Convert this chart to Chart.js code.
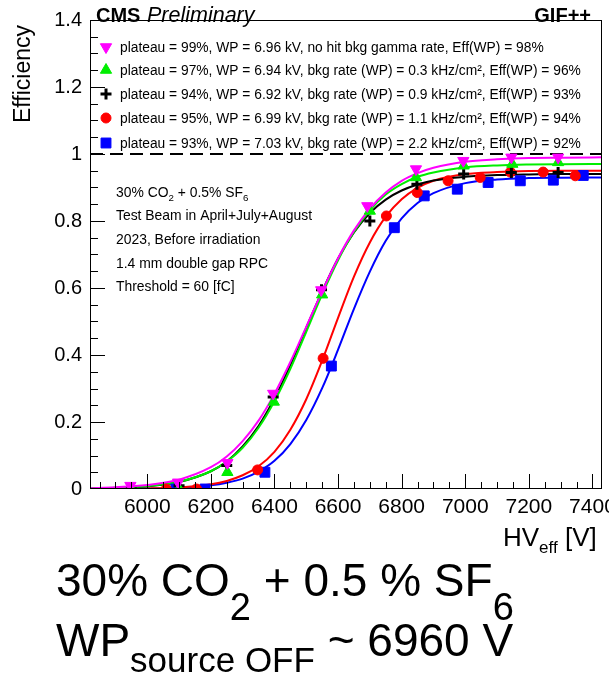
<!DOCTYPE html>
<html><head><meta charset="utf-8">
<script src="https://cdn.jsdelivr.net/npm/chart.js@4.4.0/dist/chart.umd.min.js"></script>
<style>
html,body{margin:0;padding:0;background:#fff;width:609px;height:675px;overflow:hidden;}
#wrap{position:absolute;left:0;top:0;width:609px;height:675px;}
.big{position:absolute;font-family:"Liberation Sans",Arial,sans-serif;color:#000;white-space:nowrap;line-height:1;}
.sub{position:relative;line-height:1;}
</style></head><body>
<div id="wrap"><canvas id="c" width="609" height="675"></canvas></div>
<div class="big" style="left:56px;top:557px;font-size:46px;">30% CO<span class="sub" style="font-size:38px;top:24px">2</span> + 0.5 % SF<span class="sub" style="font-size:38px;top:24px">6</span></div>
<div class="big" style="left:56px;top:617px;font-size:46px;">WP<span class="sub" style="font-size:35px;top:16px">source OFF</span> ~ 6960 V</div>
<script>
// ---------- DATA ----------
const xTickValues = [6000, 6200, 6400, 6600, 6800, 7000, 7200, 7400];
const yTickValues = [0, 0.2, 0.4, 0.6, 0.8, 1, 1.2, 1.4];
const X_MIN = 5820, X_MAX = 7430, Y_MIN = 0, Y_MAX = 1.4;

const seriesLabels = [
  "plateau = 99%, WP = 6.96 kV, no hit bkg gamma rate, Eff(WP) = 98%",
  "plateau = 97%, WP = 6.94 kV, bkg rate (WP) = 0.3 kHz/cm\u00B2, Eff(WP) = 96%",
  "plateau = 94%, WP = 6.92 kV, bkg rate (WP) = 0.9 kHz/cm\u00B2, Eff(WP) = 93%",
  "plateau = 95%, WP = 6.99 kV, bkg rate (WP) = 1.1 kHz/cm\u00B2, Eff(WP) = 94%",
  "plateau = 93%, WP = 7.03 kV, bkg rate (WP) = 2.2 kHz/cm\u00B2, Eff(WP) = 92%"
];

// measured points
const hvMagenta  = [5947, 6097, 6252, 6396, 6547, 6692, 6845, 6994, 7145, 7292];
const effMagenta = [0.01, 0.02, 0.078, 0.285, 0.594, 0.845, 0.955, 0.98, 0.99, 0.99];
const hvGreen    = [5950, 6100, 6252, 6398, 6550, 6700, 6845, 6995, 7148, 7292];
const effGreen   = [0.0, 0.0, 0.05, 0.26, 0.58, 0.83, 0.93, 0.965, 0.97, 0.975];
const hvBlack    = [5950, 6100, 6250, 6396, 6548, 6700, 6848, 6995, 7145, 7292];
const effBlack   = [0.0, 0.01, 0.07, 0.275, 0.595, 0.80, 0.91, 0.94, 0.945, 0.945];
const hvRed      = [6060, 6155, 6347, 6553, 6752, 6849, 6946, 7047, 7142, 7245, 7346];
const effRed     = [0.0, 0.0, 0.057, 0.39, 0.815, 0.885, 0.92, 0.93, 0.946, 0.946, 0.935];
const hvBlue     = [6090, 6182, 6370, 6579, 6777, 6871, 6975, 7072, 7173, 7277, 7371];
const effBlue    = [0.0, 0.0, 0.05, 0.367, 0.78, 0.875, 0.895, 0.915, 0.92, 0.922, 0.936];

// fitted curves
const fitHV      = [5820, 5900, 6000, 6100, 6200, 6250, 6300, 6350, 6400, 6450, 6500, 6550, 6600, 6650, 6700, 6750, 6800, 6850, 6900, 7000, 7100, 7200, 7300, 7430];
const fitMagenta = [0.0025, 0.0051, 0.012, 0.028, 0.065, 0.097, 0.143, 0.204, 0.284, 0.379, 0.484, 0.590, 0.689, 0.772, 0.837, 0.885, 0.920, 0.943, 0.959, 0.977, 0.984, 0.988, 0.989, 0.990];
const fitGreen   = [0.0016, 0.0034, 0.0086, 0.0215, 0.053, 0.082, 0.123, 0.183, 0.262, 0.359, 0.469, 0.581, 0.683, 0.767, 0.832, 0.879, 0.910, 0.932, 0.945, 0.960, 0.966, 0.9685, 0.9695, 0.970];
const fitBlack   = [0.0015, 0.0032, 0.0082, 0.021, 0.053, 0.082, 0.127, 0.188, 0.270, 0.370, 0.481, 0.590, 0.688, 0.766, 0.824, 0.864, 0.891, 0.909, 0.921, 0.932, 0.937, 0.939, 0.940, 0.940];
const fitRed     = [0.0002, 0.0006, 0.0016, 0.0048, 0.0142, 0.024, 0.041, 0.068, 0.111, 0.177, 0.268, 0.383, 0.511, 0.634, 0.736, 0.813, 0.865, 0.899, 0.920, 0.940, 0.946, 0.949, 0.950, 0.950];
const fitBlue    = [0.0002, 0.0005, 0.0014, 0.0039, 0.0112, 0.0187, 0.031, 0.052, 0.084, 0.134, 0.206, 0.301, 0.416, 0.538, 0.649, 0.741, 0.808, 0.854, 0.883, 0.913, 0.924, 0.928, 0.929, 0.930];

const refLineHV  = [X_MIN, X_MAX];
const refLineEff = [1, 1];

const infoLines = [
  [{t:"30% CO"},{t:"2",sub:true},{t:" + 0.5% SF"},{t:"6",sub:true}],
  [{t:"Test Beam in April+July+August"}],
  [{t:"2023, Before irradiation"}],
  [{t:"1.4 mm double gap RPC"}],
  [{t:"Threshold = 60 [fC]"}]
];

// ---------- STYLE ----------
const FONT = '"Liberation Sans", Arial, sans-serif';
const series = [
  {hv: hvMagenta, eff: effMagenta, fit: fitMagenta, color: '#ff00ff', style: 'triangle', rot: 180, r: 6.5, bw: 1},
  {hv: hvGreen,   eff: effGreen,   fit: fitGreen,   color: '#00ee00', style: 'triangle', rot: 0,   r: 6.5, bw: 1},
  {hv: hvBlack,   eff: effBlack,   fit: fitBlack,   color: '#000000', style: 'cross',    rot: 0,   r: 5.5, bw: 3},
  {hv: hvRed,     eff: effRed,     fit: fitRed,     color: '#ff0000', style: 'circle',   rot: 0,   r: 5,   bw: 1},
  {hv: hvBlue,    eff: effBlue,    fit: fitBlue,    color: '#0000ff', style: 'rect',     rot: 0,   r: 7,   bw: 1}
];
const zip = (xs, ys) => xs.map((x, i) => ({x: x, y: ys[i]}));

const datasets = [];
series.forEach((s, i) => {
  datasets.push({
    label: seriesLabels[i], data: zip(s.hv, s.eff), showLine: false, order: 0,
    pointStyle: s.style, rotation: s.rot, pointRadius: s.r, pointHoverRadius: s.r,
    backgroundColor: s.color, borderColor: s.color, pointBorderWidth: s.bw
  });
});
series.forEach((s, i) => {
  datasets.push({
    label: 'fit' + i, data: zip(fitHV, s.fit), showLine: true, order: 1,
    borderColor: s.color, borderWidth: 2, pointRadius: 0, cubicInterpolationMode: 'monotone', fill: false
  });
});
datasets.push({
  label: 'ref', data: zip(refLineHV, refLineEff), showLine: true, order: 2,
  borderColor: '#000', borderWidth: 2.2, borderDash: [13, 7], pointRadius: 0, fill: false
});

function drawMarker(ctx, s, x, y) {
  ctx.save();
  ctx.fillStyle = s.color; ctx.strokeStyle = s.color; ctx.lineWidth = s.bw;
  const r = s.r;
  ctx.beginPath();
  if (s.style === 'triangle') {
    const sgn = s.rot === 180 ? -1 : 1;
    const half = r * Math.sqrt(3) / 2;
    ctx.moveTo(x, y - sgn * r);
    ctx.lineTo(x - half, y + sgn * r / 2);
    ctx.lineTo(x + half, y + sgn * r / 2);
    ctx.closePath(); ctx.fill(); ctx.stroke();
  } else if (s.style === 'cross') {
    ctx.moveTo(x - r, y); ctx.lineTo(x + r, y);
    ctx.moveTo(x, y - r); ctx.lineTo(x, y + r); ctx.stroke();
  } else if (s.style === 'circle') {
    ctx.arc(x, y, r, 0, Math.PI * 2); ctx.fill(); ctx.stroke();
  } else {
    const h = r * Math.SQRT1_2; ctx.rect(x - h, y - h, 2 * h, 2 * h); ctx.fill(); ctx.stroke();
  }
  ctx.restore();
}

function drawRich(ctx, parts, x, y, size) {
  let cx = x;
  parts.forEach(p => {
    const fs = p.sub ? size * 0.7 : size;
    ctx.font = fs + 'px ' + FONT;
    ctx.fillText(p.t, cx, y + (p.sub ? size * 0.3 : 0));
    cx += ctx.measureText(p.t).width;
  });
}

const decor = {
  id: 'decor',
  afterDraw(chart) {
    const ctx = chart.ctx, a = chart.chartArea;
    const xs = chart.scales.x, ys = chart.scales.y;
    ctx.save();
    // frame
    ctx.strokeStyle = '#000'; ctx.lineWidth = 1;
    ctx.strokeRect(Math.round(a.left) + 0.5, Math.round(a.top) + 0.5, Math.round(a.right - a.left) - 1, Math.round(a.bottom - a.top) - 1);
    // inward ticks
    ctx.beginPath();
    for (let v = 5850; v <= X_MAX; v += 50) {
      const px = Math.round(xs.getPixelForValue(v)) + 0.5;
      const major = xTickValues.includes(v);
      ctx.moveTo(px, a.bottom); ctx.lineTo(px, a.bottom - (major ? 15 : 7));
    }
    for (let k = 1; k < 28; k++) {
      const py = Math.round(ys.getPixelForValue(k * 0.05)) + 0.5;
      const major = k % 4 === 0;
      ctx.moveTo(a.left, py); ctx.lineTo(a.left + (major ? 15 : 8), py);
    }
    ctx.stroke();
    // legend
    ctx.textBaseline = 'middle'; ctx.textAlign = 'left';
    const legY = [47, 70, 94, 118, 143];
    series.forEach((s, i) => {
      drawMarker(ctx, s, 106, legY[i]);
      ctx.fillStyle = '#000';
      ctx.font = '13.8px ' + FONT;
      ctx.fillText(seriesLabels[i], 120, legY[i] + 1);
    });
    // info text
    ctx.fillStyle = '#000';
    ctx.textBaseline = 'alphabetic';
    const infoY = [197, 220, 244, 268, 291];
    infoLines.forEach((ln, i) => drawRich(ctx, ln, 116, infoY[i], 13.9));
    // CMS Preliminary / GIF++
    ctx.font = 'bold 20px ' + FONT;
    ctx.fillText('CMS', 96, 22);
    ctx.font = 'italic 21.5px ' + FONT;
    ctx.fillText('Preliminary', 147, 22);
    ctx.font = 'bold 20px ' + FONT;
    ctx.textAlign = 'right';
    ctx.fillText('GIF++', 591, 22);
    // x title
    ctx.textAlign = 'left';
    let cx = 503;
    ctx.font = '26px ' + FONT; ctx.fillText('HV', cx, 546); cx += ctx.measureText('HV').width;
    ctx.font = '17px ' + FONT; ctx.fillText('eff', cx, 553); cx += ctx.measureText('eff').width;
    ctx.font = '26px ' + FONT; ctx.fillText(' [V]', cx, 546);
    // y title
    ctx.translate(30, 0); ctx.rotate(-Math.PI / 2);
    ctx.textAlign = 'right'; ctx.font = '23px ' + FONT;
    ctx.fillText('Efficiency', -25, 0);
    ctx.restore();
  }
};

new Chart(document.getElementById('c'), {
  type: 'scatter',
  data: {datasets: datasets},
  plugins: [decor],
  options: {
    responsive: false, animation: false, devicePixelRatio: 1,
    layout: {padding: {left: 0, right: 7, top: 20, bottom: 0}, autoPadding: false},
    plugins: {legend: {display: false}, tooltip: {enabled: false}},
    elements: {line: {tension: 0}},
    scales: {
      x: {
        type: 'linear', min: X_MIN, max: X_MAX,
        grid: {display: false, drawTicks: false}, border: {display: false},
        afterBuildTicks: sc => { sc.ticks = xTickValues.map(v => ({value: v})); },
        afterFit: sc => { sc.height = 675 - 489; sc.paddingLeft = 0; sc.paddingRight = 0; },
        ticks: {autoSkip: false, maxRotation: 0, padding: 6, color: '#000', font: {family: FONT, size: 21}, callback: v => String(v)}
      },
      y: {
        type: 'linear', min: Y_MIN, max: Y_MAX,
        grid: {display: false, drawTicks: false}, border: {display: false},
        afterBuildTicks: sc => { sc.ticks = yTickValues.map(v => ({value: v})); },
        afterFit: sc => { sc.width = 90; },
        ticks: {padding: 8, color: '#000', font: {family: FONT, size: 20}, callback: v => String(v)}
      }
    }
  }
});
</script>
</body></html>
